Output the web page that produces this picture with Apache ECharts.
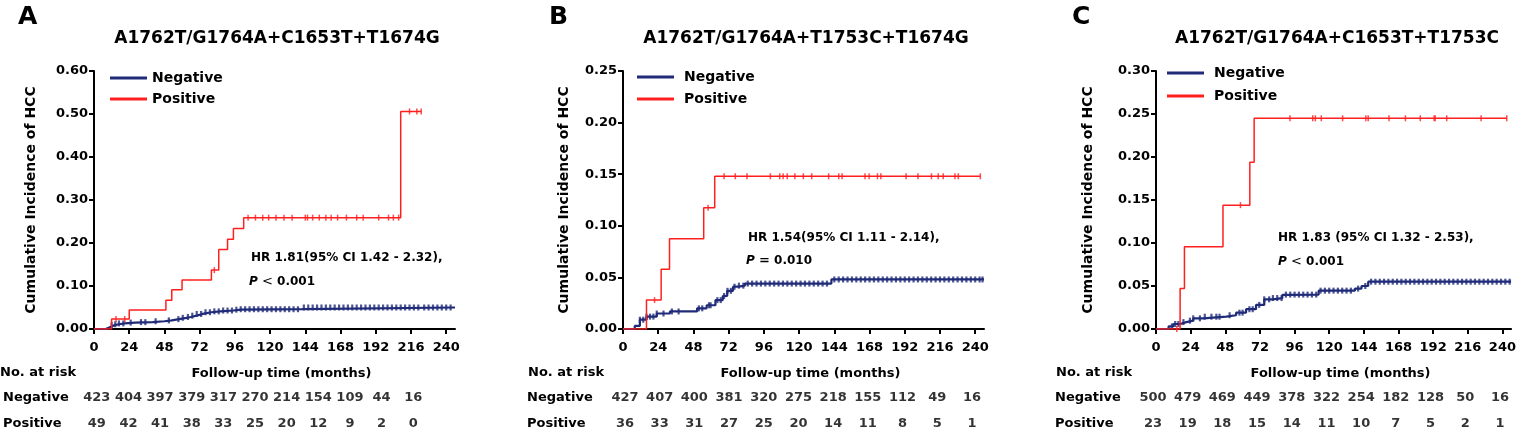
<!DOCTYPE html>
<html>
<head>
<meta charset="utf-8">
<script src="https://cdn.jsdelivr.net/npm/echarts@6/dist/echarts.min.js"></script>
<style>
    html, body { margin: 0; padding: 0; background: #fff; }
    #main { width: 1519px; height: 430px; }
</style>
</head>
<body>
<div id="main"></div>
<script>
// ---- data ----
const xTicks = [0, 24, 48, 72, 96, 120, 144, 168, 192, 216, 240]
const panelLetters = ['A', 'B', 'C']
const panelTitles = ['A1762T/G1764A+C1653T+T1674G', 'A1762T/G1764A+T1753C+T1674G', 'A1762T/G1764A+C1653T+T1753C']
const hrTexts = ['HR 1.81(95% CI 1.42 - 2.32),', 'HR 1.54(95% CI 1.11 - 2.14),', 'HR 1.83 (95% CI 1.32 - 2.53),']
const pSigns = ['<', '=', '<']
const pValues = ['0.001', '0.010', '0.001']
const yMaxes = [0.6, 0.25, 0.3]
const ySteps = [0.1, 0.05, 0.05]
const groups = ['Negative', 'Positive']

// panel A
const aNegT = [0, 8, 10, 12, 14, 17, 21, 28, 40, 48, 53, 58, 63, 66, 70, 74, 80, 86, 95, 100, 142, 246]
const aNegV = [0, 0.003, 0.006, 0.009, 0.011, 0.013, 0.015, 0.016, 0.018, 0.020, 0.023, 0.026, 0.028, 0.031, 0.035, 0.039, 0.041, 0.043, 0.045, 0.046, 0.050, 0.050]
const aPosT = [0, 12, 24, 49, 53, 60, 80, 85, 91, 95, 102, 209, 223]
const aPosV = [0, 0.023, 0.044, 0.067, 0.091, 0.114, 0.137, 0.185, 0.209, 0.234, 0.259, 0.506, 0.506]
const aNegCens = [12, 14.5, 17, 20, 25, 32, 35, 42, 51, 57.5, 60.5, 64, 67, 70, 73, 76, 79, 82, 85, 88, 91, 94, 97, 100, 103, 106, 109, 112, 115, 118, 121, 124, 127, 130, 133, 136, 139, 143, 146, 149, 152, 155, 158, 161, 164, 167, 170, 173, 176, 179, 182, 185, 188, 191, 194, 197, 200, 203, 206, 209, 212, 215, 218, 221, 225, 228, 231, 234, 237, 240, 243]
const aPosCens = [15, 21, 82, 105, 110, 115, 119, 124, 129.5, 135, 144, 145.5, 149, 153.5, 158, 161.6, 166, 172, 179, 183.4, 194, 200.7, 204, 207.6, 215, 220, 223]
const aRiskNeg = [423, 404, 397, 379, 317, 270, 214, 154, 109, 44, 16]
const aRiskPos = [49, 42, 41, 38, 33, 25, 20, 12, 9, 2, 0]

// panel B
const bNegT = [0, 8, 11.5, 16, 23, 32, 50.5, 57, 63, 68, 71, 75, 79, 83, 142, 246]
const bNegV = [0, 0.003, 0.009, 0.012, 0.015, 0.017, 0.020, 0.023, 0.028, 0.032, 0.037, 0.041, 0.042, 0.044, 0.048, 0.048]
const bPosT = [0, 16, 26, 31.7, 55, 62.5, 243.5]
const bPosV = [0, 0.028, 0.058, 0.0875, 0.1175, 0.148, 0.148]
const bNegCens = [11.5, 13.8, 16, 18.4, 20.7, 23, 27.6, 33.3, 37.9, 51.7, 54, 58.6, 59.7, 64.3, 66.6, 68.9, 71.2, 73.5, 76, 79, 82, 85, 88, 91, 94, 97, 100, 103, 106, 109, 112, 115, 118, 121, 124, 127, 130, 133, 136, 139, 144, 147, 150, 153, 156, 159, 162, 165, 168, 171, 174, 177, 180, 183, 186, 189, 192, 195, 198, 201, 204, 207, 210, 213, 216, 219, 222, 225, 228, 231, 234, 237, 240, 243, 245]
const bPosCens = [21.5, 58, 68.9, 76.5, 84.5, 100.4, 106.8, 109.1, 111.9, 117.1, 122.9, 128.6, 140.1, 147, 149.3, 164.9, 167.7, 173.4, 175.7, 192.9, 201, 210.2, 214.8, 218.2, 226.2, 228.5, 243.5]
const bRiskNeg = [427, 407, 400, 381, 320, 275, 218, 155, 112, 49, 16]
const bRiskPos = [36, 33, 31, 27, 25, 20, 14, 11, 8, 5, 1]

// panel C
const cNegT = [0, 8.7, 12, 16.7, 21, 25.8, 32.7, 48.7, 55.5, 62.4, 69.3, 75, 80.7, 87.5, 90, 112.7, 137.8, 142.4, 147, 246]
const cNegV = [0, 0.003, 0.0058, 0.008, 0.0097, 0.0124, 0.0143, 0.016, 0.019, 0.023, 0.028, 0.0345, 0.036, 0.0396, 0.040, 0.0446, 0.047, 0.050, 0.055, 0.055]
const cPosT = [0, 16.7, 19.7, 46.4, 65, 68, 243]
const cPosV = [0, 0.047, 0.0957, 0.144, 0.194, 0.245, 0.245]
const cNegCens = [11, 13.3, 15.5, 19, 23.5, 25.8, 30.4, 33.8, 38.4, 41.8, 44, 51, 57.8, 60, 64.7, 67, 71.5, 75, 78.4, 81, 84, 87, 90, 93, 96, 99, 102, 105, 108, 111, 114, 117, 120, 123, 126, 129, 132, 135, 140, 145, 149, 152, 155, 158, 161, 164, 167, 170, 173, 176, 179, 182, 185, 188, 191, 194, 197, 200, 203, 206, 209, 212, 215, 218, 221, 224, 227, 230, 233, 236, 239, 242, 245]
const cPosCens = [14.4, 58.5, 92.8, 108.6, 110.4, 114.5, 129.3, 145.4, 147, 161.4, 172.8, 183.1, 192.7, 193.4, 201.4, 225.2, 243]
const cRiskNeg = [500, 479, 469, 449, 378, 322, 254, 182, 128, 50, 16]
const cRiskPos = [23, 19, 18, 15, 14, 11, 10, 7, 5, 2, 1]

const curves = [
    { negT: aNegT, negV: aNegV, posT: aPosT, posV: aPosV, negC: aNegCens, posC: aPosCens, riskNeg: aRiskNeg, riskPos: aRiskPos },
    { negT: bNegT, negV: bNegV, posT: bPosT, posV: bPosV, negC: bNegCens, posC: bPosCens, riskNeg: bRiskNeg, riskPos: bRiskPos },
    { negT: cNegT, negV: cNegV, posT: cPosT, posV: cPosV, negC: cNegCens, posC: cPosCens, riskNeg: cRiskNeg, riskPos: cRiskPos },
]

// ---- layout ----
// legend: [left, top, textPadding, itemGap]
const layout = [
    { plot: [94, 71, 361, 258], risk: [76, 398, 353, 26], rowLabelX: -2, noRiskX: 0, yGap: 56, letterX: 18, titleX: 277, legend: [105, 66, 0, 7], hr: [251, 258], p: [249, 282] },
    { plot: [623, 71, 361, 258], risk: [607.6, 398, 381.7, 26], rowLabelX: 527, noRiskX: 528, yGap: 52, letterX: 549, titleX: 806, legend: [632, 65, 5, 8], hr: [748, 238], p: [746, 261] },
    { plot: [1156, 71, 360, 258], risk: [1135.6, 398, 381.7, 26], rowLabelX: 1055, noRiskX: 1056, yGap: 61, letterX: 1072, titleX: 1337, legend: [1162, 61, 5, 9], hr: [1278, 238], p: [1278, 262] },
]

const FONT = 'DejaVu Sans'
const NEG_COLOR = '#1f2a78'
const POS_COLOR = '#ff1f1f'

function zip(T, V) {
    return T.map((t, i) => [t, V[i]])
}
// é˜¶æ¢¯å‡½æ•°å–å€¼,ç”¨äºåˆ å¤±æ ‡è®°
function stepAt(T, V, t) {
    let v = V[0]
    for (let i = 0; i < T.length; i++) if (T[i] <= t) v = V[i]
    return v
}

const grid = [], xAxis = [], yAxis = [], series = [], legend = [], graphic = []
const boldText = { fontFamily: FONT, fontWeight: 'bold', color: '#000' }

layout.forEach((L, k) => {
    const d = curves[k]
    const g = k * 2
    grid.push({ left: L.plot[0], top: L.plot[1], width: L.plot[2], height: L.plot[3] })
    grid.push({ left: L.risk[0], top: L.risk[1], width: L.risk[2], height: L.risk[3] })

    xAxis.push({
        type: 'value', gridIndex: g, min: 0, max: 246,
        axisLine: { show: true, lineStyle: { color: '#000', width: 2 } },
        axisTick: { show: true, length: 5, customValues: xTicks, lineStyle: { color: '#000', width: 2 } },
        axisLabel: { customValues: xTicks, ...boldText, fontSize: 13, margin: 12 },
        splitLine: { show: false },
        name: 'Follow-up time (months)', nameLocation: 'middle', nameGap: 38,
        nameTextStyle: { ...boldText, fontSize: 13, padding: [0, 0, 0, 14] },
    })
    yAxis.push({
        type: 'value', gridIndex: g, min: 0, max: yMaxes[k], interval: ySteps[k],
        axisLine: { show: true, lineStyle: { color: '#000', width: 2 } },
        axisTick: { show: true, length: 5, lineStyle: { color: '#000', width: 2 } },
        axisLabel: { ...boldText, fontSize: 13, margin: 6, formatter: v => v.toFixed(2) },
        splitLine: { show: false },
        name: 'Cumulative Incidence of HCC', nameLocation: 'middle', nameGap: L.yGap,
        nameTextStyle: { ...boldText, fontSize: 14 },
    })
    // é£é™©è¡¨
    xAxis.push({
        type: 'category', gridIndex: g + 1, data: xTicks.map(String),
        axisLine: { show: false }, axisTick: { show: false }, axisLabel: { show: false },
    })
    yAxis.push({
        type: 'category', gridIndex: g + 1, data: groups, inverse: true, boundaryGap: false,
        axisLine: { show: false }, axisTick: { show: false }, splitLine: { show: false },
        axisLabel: { ...boldText, fontSize: 13, align: 'left', margin: L.risk[0] - L.rowLabelX },
    })

    series.push({
        name: 'Negative', type: 'line', step: 'end', xAxisIndex: g, yAxisIndex: g,
        data: zip(d.negT, d.negV), showSymbol: false, symbol: 'none',
        color: NEG_COLOR, lineStyle: { width: 2.2 }, z: 2,
    })
    series.push({
        name: 'Positive', type: 'line', step: 'end', xAxisIndex: g, yAxisIndex: g,
        data: zip(d.posT, d.posV), showSymbol: false, symbol: 'none',
        color: POS_COLOR, lineStyle: { width: 1.5 }, z: 3,
    })
    series.push({
        name: 'Negative censored', type: 'scatter', xAxisIndex: g, yAxisIndex: g,
        data: d.negC.map(t => [t, stepAt(d.negT, d.negV, t)]),
        symbol: 'rect', symbolSize: [2.2, 6], color: NEG_COLOR, z: 2, silent: true,
    })
    series.push({
        name: 'Positive censored', type: 'scatter', xAxisIndex: g, yAxisIndex: g,
        data: d.posC.map(t => [t, stepAt(d.posT, d.posV, t)]),
        symbol: 'rect', symbolSize: [1.5, 6], color: POS_COLOR, z: 3, silent: true,
    })
    series.push({
        name: 'risk', type: 'scatter', xAxisIndex: g + 1, yAxisIndex: g + 1,
        data: d.riskNeg.map((n, i) => [i, 0, n]).concat(d.riskPos.map((n, i) => [i, 1, n])),
        symbolSize: 1, itemStyle: { color: 'rgba(0,0,0,0)' }, silent: true,
        label: { show: true, position: 'inside', formatter: p => p.value[2], ...boldText, fontSize: 13 },
    })

    legend.push({
        data: groups, orient: 'vertical', left: L.legend[0], top: L.legend[1],
        icon: 'rect', itemWidth: 37, itemHeight: 3, itemGap: L.legend[3],
        textStyle: { ...boldText, fontSize: 14, padding: [0, 0, 0, L.legend[2]] },
    })

    graphic.push({ type: 'text', x: L.letterX, y: 17, style: { text: panelLetters[k], fontFamily: FONT, fontWeight: 'bold', fontSize: 25, fill: '#000', verticalAlign: 'middle' } })
    graphic.push({ type: 'text', x: L.titleX, y: 39, style: { text: panelTitles[k], fontFamily: FONT, fontWeight: 'bold', fontSize: 17, fill: '#000', align: 'center', verticalAlign: 'middle' } })
    graphic.push({ type: 'text', x: L.noRiskX, y: 373, style: { text: 'No. at risk', fontFamily: FONT, fontWeight: 'bold', fontSize: 13, fill: '#000', verticalAlign: 'middle' } })
    graphic.push({ type: 'text', x: L.hr[0], y: L.hr[1], style: { text: hrTexts[k], fontFamily: FONT, fontWeight: 'bold', fontSize: 12, fill: '#000', verticalAlign: 'middle' } })
    graphic.push({
        type: 'text', x: L.p[0], y: L.p[1],
        style: {
            text: '{i|P} {op|' + pSigns[k] + '} ' + pValues[k],
            fontFamily: FONT, fontWeight: 'bold', fontSize: 12, fill: '#000', verticalAlign: 'middle',
            rich: {
                i: { fontFamily: FONT, fontWeight: 'bold', fontStyle: 'italic', fontSize: 12 },
                op: { fontFamily: FONT, fontWeight: pSigns[k] === '<' ? 'normal' : 'bold', fontSize: 13 },
            },
        },
    })
})

const mychart = echarts.init(document.getElementById('main'))
mychart.setOption({
    animation: false,
    backgroundColor: '#fff',
    grid, xAxis, yAxis, series, legend, graphic,
})
</script>
</body>
</html>
